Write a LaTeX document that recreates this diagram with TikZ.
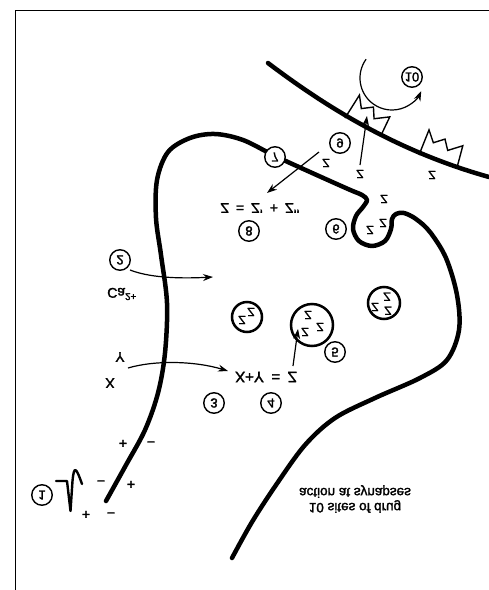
\documentclass[tikz,border=0pt]{standalone}
\usepackage{fontspec}
\setmainfont{Liberation Sans}
\newfontfamily\labelfont{Liberation Sans}[FakeBold=2]
\usetikzlibrary{arrows.meta}
\begin{document}
\begin{tikzpicture}[x=1pt,y=-1pt,
  membrane/.style={line width=4.5, line cap=round, line join=round},
  frameline/.style={line width=1.3},
  arr/.style={line width=1.2, -{Stealth[length=10,width=7]}},
  upside/.style={yscale=-1, inner sep=0pt},
  txt/.style={upside, font=\labelfont\fontsize{14}{15}\selectfont},
  zed/.style={upside, font=\labelfont\fontsize{12}{12}\selectfont},
  num/.style={upside, circle, draw, line width=1.4, fill=white, minimum size=20.5, font=\labelfont\fontsize{13}{13}\selectfont},
  vesicle/.style={circle, draw, line width=2.5, inner sep=0pt},
  sign/.style={inner sep=0pt, font=\labelfont\fontsize{14}{14}\selectfont},
  receptor/.style={line width=1.4, line join=miter},
]
\useasboundingbox (0,0) rectangle (489,590);

% frame
\draw[frameline] (15.3,590) -- (15.3,10.7) -- (489,10.7);

% postsynaptic membrane
\draw[membrane] (268,63) .. controls (330,110) and (400,152) .. (489,177);

% receptors on the postsynaptic membrane
\foreach \bx/\by/\ang in {345/118/-28, 419/155/-17.5}{
  \draw[receptor, shift={(\bx,\by)}, rotate=\ang]
    (0,0) -- (2,-27) -- (10,-16) -- (20,-23) -- (26,-13) -- (39,-22) -- (40,0);
}

% presynaptic terminal
\draw[membrane] plot[smooth, tension=0.55] coordinates {
  (106,501) (126,465) (145,430) (158,393) (165,353) (167,303) (161,255)
  (156,218) (157,180) (168,152) (190,138) (215,134) (243,140) (275,156)
  (310,172) (348,189) (362,195) (367,200) (363,207) (356,216) (353,229)
  (359,241) (372,246) (385,241) (391,229) (392,219) (396,214) (404,213)
  (416,219) (430,232) (446,258) (457,295) (459,330) (447,360) (420,378)
  (375,398) (335,418) (305,445) (276,485) (252,522) (232,558)};

% action potential
\draw[line width=2.4, line join=round, line cap=round]
  (56,481) -- (67,481) -- (70.5,511) -- (72.5,481)
  .. controls (74,465) and (76,467) .. (82,484);

% charges
\node[sign] (m1) at (101,483) {−};
\node[sign] (p1) at (131,485) {+};
\node[sign] (p2) at (86,515) {+};
\node[sign] (m2) at (111,515) {−};
\node[sign] (p3) at (123,444) {+};
\node[sign] (m3) at (151,444) {−};

% vesicles
\node[vesicle, minimum size=30] (v1) at (247,317) {};
\node[vesicle, minimum size=42] (v2) at (312,325) {};
\node[vesicle, minimum size=32] (v3) at (384,303) {};
\foreach \zx/\zy in {242/320, 251/312, 308/315, 320/327, 305/332,
                     387/296.7, 375/307, 388/310.7,
                     326/163, 360/174, 432/175, 384/199, 383/223, 370/230}{
  \node[zed] at (\zx,\zy) {Z};
}

% text
\node[txt] (ca) at (122,294) {Ca\textsuperscript{2+}};
\node[txt] (lx) at (110,383) {X};
\node[txt] (ly) at (120,357) {Y};
\node[txt, font=\labelfont\fontsize{15}{15}\selectfont] (eq1) at (266,377) {X+Y\enspace=\enspace Z};
\node[txt] (eq2) at (260,208) {Z\enspace=\enspace Z’\enspace+\enspace Z’’};
\node[txt, align=center, font=\labelfont\fontsize{13.5}{15}\selectfont] (title) at (355,499) {10 sites of drug\\action at synapses};

% arrows
\coordinate (caS) at (130,270);
\coordinate (caE) at (213,277);
\coordinate (xS) at (128,368);
\coordinate (xE) at (228,371);
\coordinate (zS) at (293,366);
\coordinate (zE) at (298,329);
\coordinate (rS) at (319,152);
\coordinate (rE) at (267,193);
\coordinate (bS) at (360,165);
\coordinate (bE) at (367,116);
\draw[arr] (caS) .. controls (148,277) and (175,279) .. (caE);
\draw[arr] (xS) .. controls (155,360) and (195,361) .. (xE);
\draw[arr] (zS) -- (zE);
\draw[arr] (rS) -- (rE);
\draw[arr] (bS) -- (bE);
\draw[arr] (366.1,59.2) arc[start angle=216, end angle=24, radius=32];

% numbered sites
\node[num] (n1) at (42,495) {1};
\node[num] (n2) at (120,260) {2};
\node[num] (n3) at (214,403) {3};
\node[num] (n4) at (271,403) {4};
\node[num] (n5) at (335,352) {5};
\node[num] (n6) at (336,229) {6};
\node[num] (n7) at (275,157) {7};
\node[num] (n8) at (249,231) {8};
\node[num] (n9) at (340,143) {9};
\node[num] (n10) at (412,77) {10};
\end{tikzpicture}
\end{document}
